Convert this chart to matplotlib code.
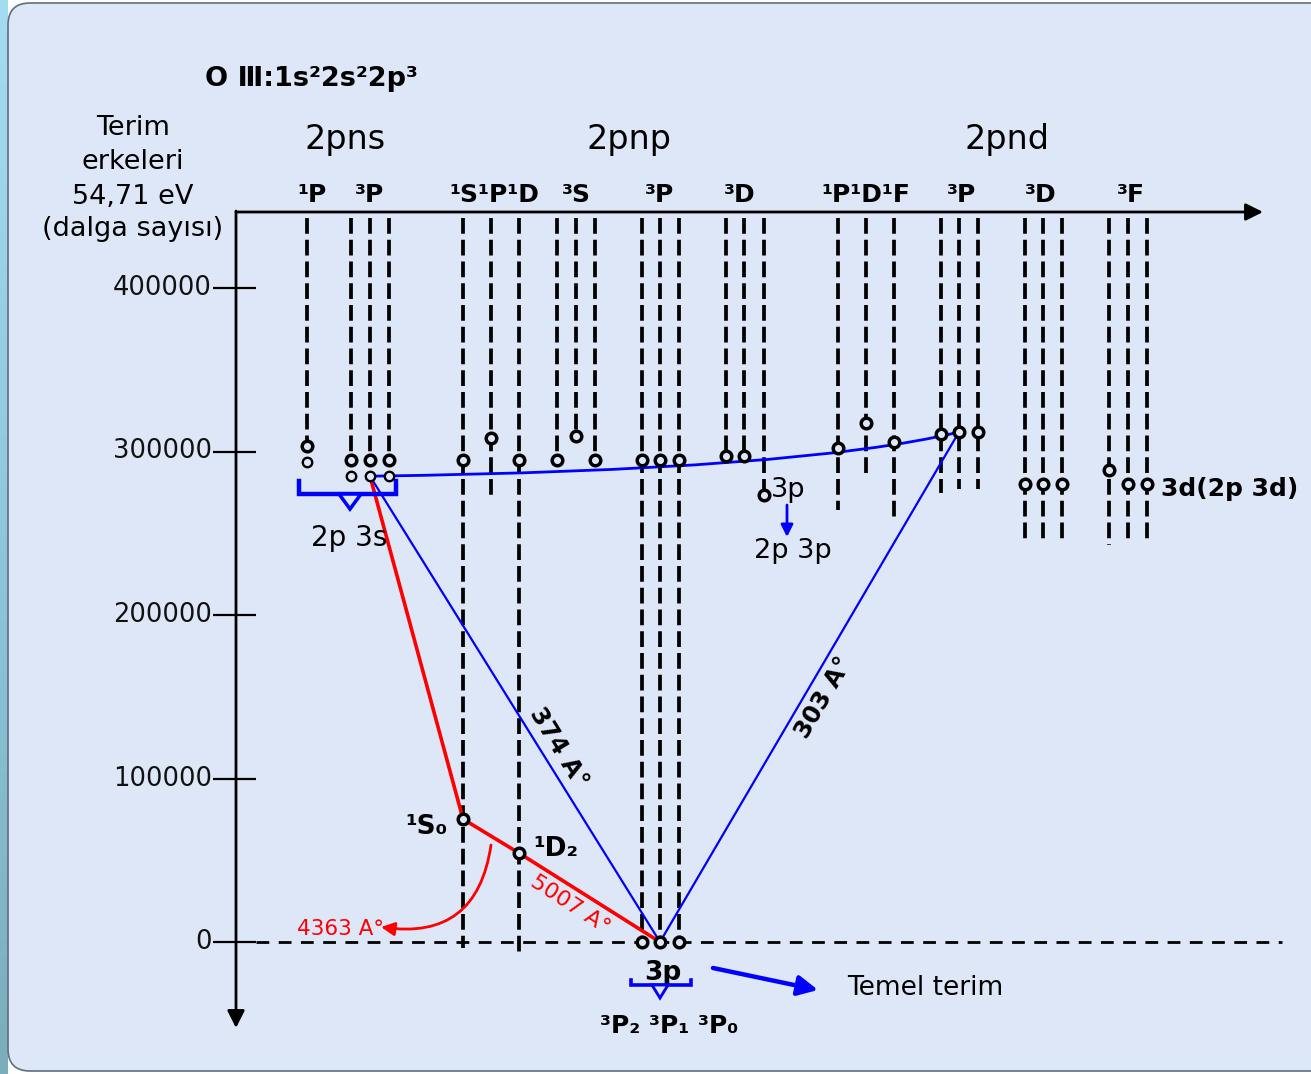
import matplotlib
matplotlib.use('Agg')
import numpy as np
import matplotlib.pyplot as plt
from matplotlib.patches import FancyBboxPatch, FancyArrowPatch, Polygon, PathPatch
from matplotlib.path import Path
from matplotlib.colors import LinearSegmentedColormap

# ---------------- data ----------------
tick_values = [0, 100000, 200000, 300000, 400000]
tick_labels = ['0', '100000', '200000', '300000', '400000']

group_labels = ['2pns', '2pnp', '2pnd']
term_labels = ['¹P', '³P', '¹S¹P¹D', '³S', '³P', '³D', '¹P¹D¹F', '³P', '³D', '³F']

# upper term energies (cm^-1): circle level of each vertical line
level_E = [303300, 294800, 294800, 294800,            # 2pns 1P, 3P
           294800, 308200, 294800,                    # 2pnp 1S 1P 1D
           294800, 309500, 294800,                    # 2pnp 3S
           294800, 294800, 294800,                    # 2pnp 3P
           297200, 297200, 273400,                    # 2pnp 3D
           302100, 317400, 305800,                    # 2pnd 1P 1D 1F
           310700, 311900, 311900,                    # 2pnd 3P
           280100, 280100, 280100,                    # 2pnd 3D
           288700, 280100, 280100]                    # 2pnd 3F
# lower end of each dashed line (None = ends at the circle)
line_bottom_E = [None, None, None, None,
                 -3700, 271500, -9200,
                 None, None, None,
                 0, 0, 0,
                 None, None, None,
                 264200, 286800, 259900,
                 274600, 277000, 277000,
                 245900, 245900, 245900,
                 242800, 244000, 244000]
line_top_E = 442800

# 2p 3s small levels
s3_E = [293600, 284900, 284900, 284900]
# low terms of ground configuration 2p2
low_names = ['¹S₀', '¹D₂']
low_E = [75200, 54400]
ground_E = [0, 0, 0]        # 3P2 3P1 3P0

# ---------------- layout ----------------
W, H, DPI = 1311, 1074, 100
col_x = [307, 351, 370, 389,
         463, 491, 519,
         557, 576, 595,
         642, 660, 679,
         726, 744, 764,
         838, 866, 894,
         941, 959, 978,
         1025, 1043, 1062,
         1109, 1128, 1147]
s3_x = [307, 351, 370, 389]
low_x = [463, 519]
ground_x = [642, 660, 679]
group_x = [345, 629, 1007]
term_x = [312, 370, 494, 576, 660, 740, 866, 961, 1041, 1131]

PX_PER_E = 163.5 / 100000.0
Y0 = 942

BG = '#dee7f7'
FONT = ['DejaVu Sans', 'Noto Sans', 'Noto Sans CJK SC']
plt.rcParams['font.family'] = FONT

fig = plt.figure(figsize=(W / DPI, H / DPI), dpi=DPI)
fig.patch.set_facecolor('white')

lay = fig.add_axes([0, 0, 1, 1])
lay.set_xlim(0, W); lay.set_ylim(H, 0); lay.axis('off')
cm = LinearSegmentedColormap.from_list('strip', ['#a3dcf2', '#8ec7dc', '#7aaebd'])
lay.imshow(np.linspace(0, 1, 64).reshape(-1, 1), cmap=cm, aspect='auto',
           extent=(0, 8, H, 0), zorder=0)
lay.add_patch(FancyBboxPatch((8, 3), W + 60, 1068,
                             boxstyle='round,pad=0,rounding_size=22',
                             fc=BG, ec='#5f6f80', lw=1.2, zorder=1))
lay.set_xlim(0, W); lay.set_ylim(H, 0)

ax = fig.add_axes([0, 0, 1, 1])
ax.set_xlim(0, W)
ax.set_ylim((Y0 - H) / PX_PER_E, Y0 / PX_PER_E)
ax.axis('off'); ax.patch.set_alpha(0)
L = lay.transData

# axes arrows
ax.add_patch(FancyArrowPatch((236, 212), (1263, 212), transform=L, arrowstyle='-|>',
                             mutation_scale=26, lw=2.0, color='black', shrinkA=0, shrinkB=0))
ax.add_patch(FancyArrowPatch((236, 211), (236, 1028), transform=L, arrowstyle='-|>',
                             mutation_scale=26, lw=2.0, color='black', shrinkA=0, shrinkB=0))
# ticks
for v, lab in zip(tick_values, tick_labels):
    ax.plot([213, 256], [v, v], color='black', lw=1.6, solid_capstyle='butt')
    ax.text(212, v, lab, ha='right', va='center', fontsize=18.5, color='#111111')
# ground line
ax.plot([256, 1282], [0, 0], color='black', lw=2.0, linestyle=(0, (4.6, 3.4)))

# vertical dashed lines
for x, e, b in zip(col_x, level_E, line_bottom_E):
    bottom = e if b is None else b
    ax.plot([x, x], [line_top_E, bottom], color='black', lw=2.7,
            linestyle=(0, (4.2, 1.6)), zorder=2)

# transitions
p3s = (s3_x[2], s3_E[2])
g = (ground_x[1], ground_E[1])
up3P = (col_x[20], level_E[20])
# red: 2p3s -> 1S0 -> 1D2 -> ground
ax.plot([p3s[0], low_x[0]], [p3s[1], low_E[0]], color='#ff0000', lw=2.6, zorder=3)
ax.plot([low_x[0], low_x[1], g[0]], [low_E[0], low_E[1], g[1]], color='#ff0000', lw=2.6, zorder=3)
# blue V
ax.plot([p3s[0], g[0], up3P[0]], [p3s[1], g[1], up3P[1]], color='#0000ff', lw=1.6, zorder=3)
# blue curve from 2p3s to 2pnd 3P
ctrl = (p3s[0] + 0.73 * (up3P[0] - p3s[0]), p3s[1] + 3500)
ax.add_patch(PathPatch(Path([p3s, ctrl, up3P], [Path.MOVETO, Path.CURVE3, Path.CURVE3]),
                       fc='none', ec='#0000ff', lw=2.0, zorder=3))

# circles
circ = dict(ls='none', marker='o', mfc=BG, mec='black', zorder=5)
ax.plot(col_x, level_E, ms=7.6, mew=2.5, **circ)
ax.plot(s3_x, s3_E, ms=6.8, mew=1.7, **circ)
ax.plot(low_x, low_E, ms=7.6, mew=2.5, **circ)
ax.plot(ground_x, ground_E, ms=7.6, mew=2.5, **circ)

# ---------------- text ----------------
ax.text(205, 86, 'O Ⅲ:1s²2s²2p³', transform=L, fontsize=19.5, fontweight='bold', va='baseline')
for s, y in zip(['Terim', 'erkeleri', '54,71 eV', '(dalga sayısı)'], [135, 169, 204, 236]):
    ax.text(133, y, s, transform=L, fontsize=19.5, ha='center', va='baseline')
for s, x in zip(group_labels, group_x):
    ax.text(x, 149, s, transform=L, fontsize=24, ha='center', va='baseline')
for s, x in zip(term_labels, term_x):
    ax.text(x, 202, s, transform=L, fontsize=18, fontweight='bold', ha='center', va='baseline')

ax.text(low_x[0] - 58, 834, low_names[0], transform=L, fontsize=19, fontweight='bold', va='baseline')
ax.text(low_x[1] + 14, 856, low_names[1], transform=L, fontsize=19, fontweight='bold', va='baseline')
ax.text(663, 980, '3p', transform=L, fontsize=19, fontweight='bold', ha='center', va='baseline')
ax.text(600, 1033, '³P₂ ³P₁ ³P₀', transform=L, fontsize=18, fontweight='bold', va='baseline')
ax.text(349, 546, '2p 3s', transform=L, fontsize=20, ha='center', va='baseline')
ax.text(771, 497, '3p', transform=L, fontsize=19.5, va='baseline')
ax.text(793, 558, '2p 3p', transform=L, fontsize=19.5, ha='center', va='baseline')
ax.text(1161, 496, '3d(2p 3d)', transform=L, fontsize=18, fontweight='bold', va='baseline')
ax.text(847, 995, 'Temel terim', transform=L, fontsize=19, va='baseline')
ax.text(558, 748, '374 A°', transform=L, fontsize=17.5, fontweight='bold', rotation=-58.5,
        ha='center', va='center', rotation_mode='anchor')
ax.text(824, 698, '303 A°', transform=L, fontsize=17.5, fontweight='bold', rotation=59.4,
        ha='center', va='center', rotation_mode='anchor')
ax.text(570, 905, '5007 A°', transform=L, fontsize=16, color='#ff0000', rotation=-33,
        ha='center', va='center', rotation_mode='anchor')
ax.text(297, 935, '4363 A°', transform=L, fontsize=15.5, color='#ff0000', va='baseline')

# red curved arrow (4363)
ax.add_patch(FancyArrowPatch((491, 845), (381, 927), transform=L, connectionstyle='arc3,rad=-0.5',
                             arrowstyle='-|>', mutation_scale=20, lw=2.0, color='#ff0000',
                             shrinkA=0, shrinkB=0, zorder=4))
# blue arrow "3p -> 2p 3p"
ax.add_patch(FancyArrowPatch((787, 505), (787, 537), transform=L, arrowstyle='-|>',
                             mutation_scale=18, lw=2.0, color='#0000ff', shrinkA=0, shrinkB=0))
# blue arrow to "Temel terim"
ax.add_patch(FancyArrowPatch((713, 968), (818, 990), transform=L, arrowstyle='-|>',
                             mutation_scale=30, lw=3.2, color='#0000ff', shrinkA=0, shrinkB=0))

# brackets
def bracket(x0, x1, y, ytop, xm, tw, th, lw):
    ax.plot([x0, x0, x1, x1], [ytop, y, y, ytop], transform=L, color='#0000ff', lw=lw,
            solid_joinstyle='miter', zorder=4)
    ax.add_patch(Polygon([(xm - tw, y), (xm + tw, y), (xm, y + th)], closed=True, transform=L,
                         fc=BG, ec='#0000ff', lw=lw * 0.8, zorder=4))

bracket(299, 396, 494, 481, 350, 11, 15, 3.2)
bracket(631, 691, 985, 980, 660, 8, 13, 2.6)

fig.savefig('out.png', dpi=DPI, facecolor=fig.get_facecolor())
